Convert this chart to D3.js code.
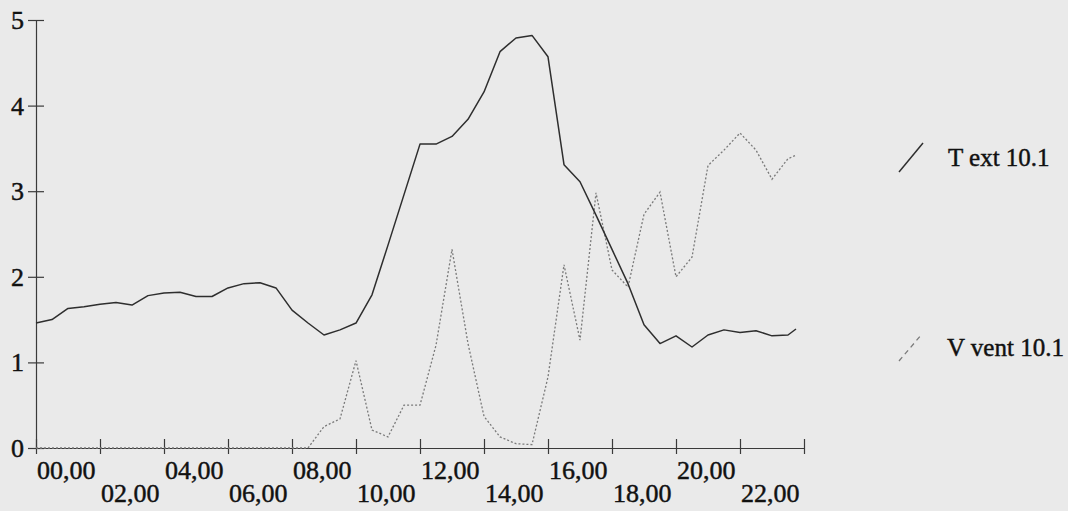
<!DOCTYPE html>
<html>
<head>
<meta charset="utf-8">
<script src="https://cdn.jsdelivr.net/npm/d3@7"></script>
<style>
  html, body { margin: 0; padding: 0; background: #eaeaea; }
  svg { display: block; }
  svg text { font-family: "Liberation Serif", "Tinos", "DejaVu Serif", "Times New Roman", Times, serif !important; fill: #111; stroke: #111; stroke-width: 0.45px; }
</style>
</head>
<body>
<svg id="chart" width="1068" height="511"></svg>
<script>
// Time of each reading, in hours
const hours = [0,0.5,1,1.5,2,2.5,3,3.5,4,4.5,5,5.5,6,6.5,7,7.5,8,8.5,9,9.5,10,10.5,11,11.5,
               12,12.5,13,13.5,14,14.5,15,15.5,16,16.5,17,17.5,18,18.5,19,19.5,20,20.5,21,21.5,22,22.5,23,23.5,23.75];
const tExt = [1.46,1.50,1.63,1.65,1.68,1.70,1.67,1.78,1.81,1.82,1.77,1.77,1.87,1.92,1.93,1.87,1.61,1.46,1.32,1.38,1.46,1.79,2.37,2.96,
              3.55,3.55,3.64,3.84,4.16,4.63,4.79,4.82,4.57,3.31,3.11,2.72,2.32,1.92,1.44,1.22,1.31,1.18,1.32,1.38,1.35,1.37,1.31,1.32,1.39];
const vVent = [0,0,0,0,0,0,0,0,0,0,0,0,0,0,0,0,0,0,0.25,0.34,1.02,0.21,0.13,0.50,
               0.50,1.20,2.32,1.22,0.37,0.13,0.05,0.04,0.83,2.14,1.26,2.98,2.08,1.88,2.73,2.99,2.00,2.23,3.30,3.48,3.68,3.48,3.14,3.38,3.42];
const xTickHours = [0,2,4,6,8,10,12,14,16,18,20,22,24];
const xTickLabels = ["00,00","02,00","04,00","06,00","08,00","10,00","12,00","14,00","16,00","18,00","20,00","22,00"];
const yTicks = [0,1,2,3,4,5];
const seriesNames = ["T ext 10.1","V vent 10.1"];

const FONT = "'Liberation Serif', Tinos, 'DejaVu Serif', 'Times New Roman', serif";
const svg = d3.select("#chart");
const x = d3.scaleLinear().domain([0,24]).range([36,804]);
const y = d3.scaleLinear().domain([0,5]).range([448,20]);

const axisColor = "#3a3a3a";

// Y axis
const gy = svg.append("g").attr("transform", `translate(${x(0)},0)`)
  .call(d3.axisLeft(y).tickValues(yTicks).tickFormat(d3.format("d")).tickSizeOuter(0))
  .attr("font-family", FONT);
gy.select(".domain").attr("stroke", axisColor).attr("stroke-width", 1.2);
gy.selectAll(".tick line").attr("x1", -8).attr("x2", 8).attr("stroke", axisColor).attr("stroke-width", 1.2);
gy.selectAll(".tick text").attr("x", -12).attr("dy", "0.33em")
  .attr("font-family", FONT).attr("font-size", 26).attr("fill", "#111");

// X axis
const gx = svg.append("g").attr("transform", `translate(0,${y(0)})`)
  .call(d3.axisBottom(x).tickValues(xTickHours).tickFormat("").tickSizeOuter(0));
gx.select(".domain").attr("stroke", axisColor).attr("stroke-width", 1.2);
gx.selectAll(".tick line").attr("y1", -9).attr("y2", 6).attr("stroke", axisColor).attr("stroke-width", 1.2);

svg.append("g").selectAll("text").data(xTickLabels).join("text")
  .attr("x", (d,i) => x(xTickHours[i]) + 1)
  .attr("y", (d,i) => i % 2 === 0 ? 479 : 502)
  .attr("text-anchor", "start")
  .attr("font-family", FONT).attr("font-size", 26)
  .text(d => d);

// Lines
const line = d3.line().x((d,i) => x(hours[i])).y(d => y(d));
svg.append("path").datum(vVent)
  .attr("d", line).attr("fill", "none")
  .attr("stroke", "#7a7a7a").attr("stroke-width", 1.3).attr("stroke-dasharray", "2,2");
svg.append("path").datum(tExt)
  .attr("d", line).attr("fill", "none")
  .attr("stroke", "#2e2e2e").attr("stroke-width", 1.5).attr("stroke-linejoin", "round");

// Legend
const leg = svg.append("g");
leg.append("line").attr("x1", 899).attr("y1", 172).attr("x2", 923).attr("y2", 143)
  .attr("stroke", "#2e2e2e").attr("stroke-width", 1.5);
leg.append("text").attr("x", 948).attr("y", 166).attr("font-family", FONT).attr("font-size", 25).text(seriesNames[0]);
leg.append("line").attr("x1", 899).attr("y1", 361).attr("x2", 922).attr("y2", 334)
  .attr("stroke", "#7a7a7a").attr("stroke-width", 1.3).attr("stroke-dasharray", "5,4");
leg.append("text").attr("x", 947).attr("y", 356).attr("font-family", FONT).attr("font-size", 25).text(seriesNames[1]);
</script>
</body>
</html>
